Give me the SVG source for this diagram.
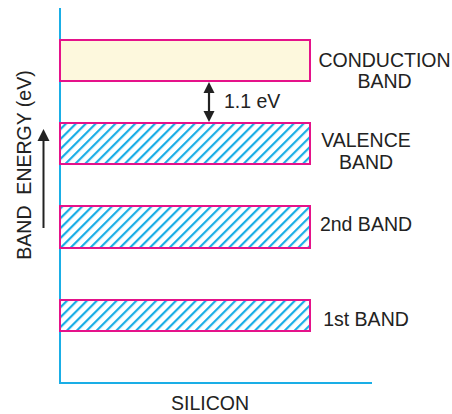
<svg xmlns="http://www.w3.org/2000/svg" width="452" height="414" viewBox="0 0 452 414">
<defs>
<pattern id="hatch" patternUnits="userSpaceOnUse" width="7" height="7" patternTransform="rotate(45)">
<rect x="0" y="0" width="2.2" height="7" fill="#1aaee6"/>
</pattern>
</defs>
<style>
.t{font-family:"Liberation Sans",Arial,sans-serif;font-size:19.5px;fill:#222}
.band{stroke:#e5128a;stroke-width:2}
.axis{stroke:#1aaee6;stroke-width:2;fill:none}
</style>
<rect width="452" height="414" fill="#fff"/>
<g id="axes">
<path class="axis" d="M60,8 V383 H372"/>
</g>
<g id="conduction-band">
<rect class="band" x="60" y="40" width="250" height="41" fill="#fdf8dd"/>
<text class="t" x="384.5" y="67" text-anchor="middle">CONDUCTION</text>
<text class="t" x="384.5" y="88" text-anchor="middle">BAND</text>
</g>
<g id="valence-band">
<rect class="band" x="60" y="123" width="250" height="41" fill="url(#hatch)"/>
<text class="t" x="366" y="147" text-anchor="middle">VALENCE</text>
<text class="t" x="366" y="169" text-anchor="middle">BAND</text>
</g>
<g id="second-band">
<rect class="band" x="60" y="206" width="250" height="42" fill="url(#hatch)"/>
<text class="t" x="366" y="231" text-anchor="middle">2nd BAND</text>
</g>
<g id="first-band">
<rect class="band" x="60" y="300" width="250" height="31" fill="url(#hatch)"/>
<text class="t" x="366" y="326" text-anchor="middle">1st BAND</text>
</g>
<g id="connectors">
<line x1="209" y1="90" x2="209" y2="114" stroke="#222" stroke-width="2.2"/>
<polygon points="209,82 203.5,93 214.5,93" fill="#222"/>
<polygon points="209,122 203.5,111 214.5,111" fill="#222"/>
<line x1="43.5" y1="138" x2="43.5" y2="228" stroke="#222" stroke-width="2"/>
<polygon points="43.5,129 37.5,141 49.5,141" fill="#222"/>
</g>
<g id="labels">
<text class="t" x="224" y="108">1.1 eV</text>
<text class="t" x="210" y="410" text-anchor="middle">SILICON</text>
<text class="t" x="0" y="0" text-anchor="middle" xml:space="preserve" transform="translate(31,165) rotate(-90)">BAND  ENERGY (eV)</text>
</g>
</svg>
